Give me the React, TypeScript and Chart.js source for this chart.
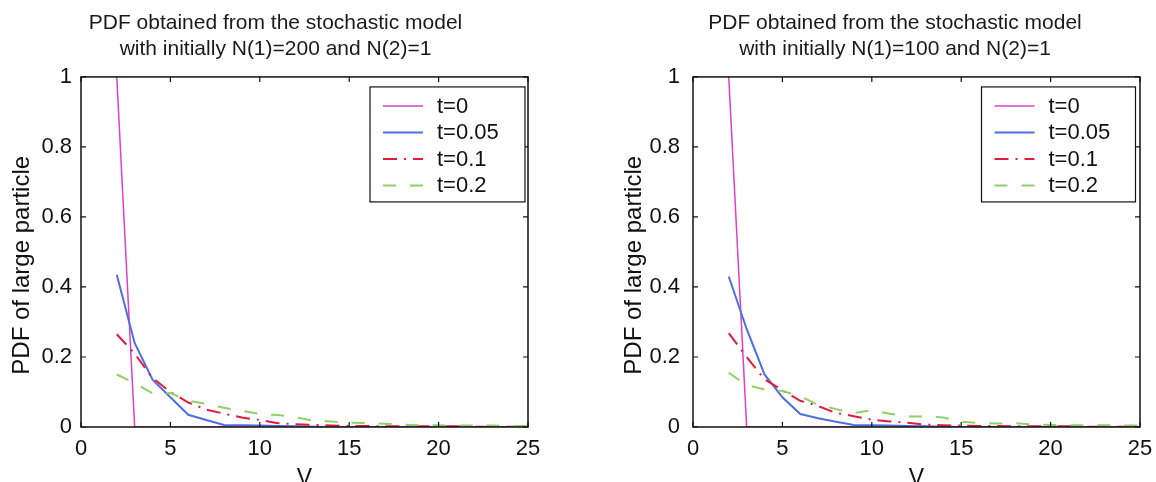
import React, { useEffect, useRef } from 'react';
import { Chart, registerables } from 'chart.js';

Chart.register(...registerables);

// ---------- data ----------
const V = [2, 3, 4, 5, 6, 7, 8, 9, 10, 11, 12, 13, 14, 15, 16, 17, 18, 19, 20, 21, 22, 23, 24, 25];

const SERIES_LABELS = ['t=0', 't=0.05', 't=0.1', 't=0.2'];

const LEFT_T0 = [1, 0, 0, 0, 0, 0, 0, 0, 0, 0, 0, 0, 0, 0, 0, 0, 0, 0, 0, 0, 0, 0, 0, 0];
const LEFT_T005 = [0.435, 0.24, 0.135, 0.085, 0.035, 0.02, 0.006, 0.005, 0.004, 0.003, 0.002, 0.001, 0, 0, 0, 0, 0, 0, 0, 0, 0, 0, 0, 0];
const LEFT_T01 = [0.265, 0.21, 0.14, 0.1, 0.07, 0.05, 0.038, 0.027, 0.02, 0.011, 0.008, 0.006, 0.004, 0.003, 0.003, 0.002, 0.002, 0.002, 0.002, 0.002, 0.001, 0.001, 0.001, 0.001];
const LEFT_T02 = [0.15, 0.125, 0.096, 0.097, 0.075, 0.066, 0.055, 0.046, 0.037, 0.034, 0.028, 0.018, 0.016, 0.012, 0.011, 0.009, 0.007, 0.005, 0.005, 0.004, 0.004, 0.004, 0.003, 0.003];

const RIGHT_T0 = [1, 0, 0, 0, 0, 0, 0, 0, 0, 0, 0, 0, 0, 0, 0, 0, 0, 0, 0, 0, 0, 0, 0, 0];
const RIGHT_T005 = [0.43, 0.28, 0.15, 0.085, 0.037, 0.025, 0.015, 0.006, 0.005, 0.004, 0.003, 0.002, 0.001, 0, 0, 0, 0, 0, 0, 0, 0, 0, 0, 0];
const RIGHT_T01 = [0.268, 0.2, 0.136, 0.105, 0.075, 0.06, 0.04, 0.031, 0.021, 0.016, 0.012, 0.007, 0.005, 0.004, 0.003, 0.003, 0.002, 0.002, 0.002, 0.002, 0.001, 0.001, 0.001, 0.001];
const RIGHT_T02 = [0.155, 0.12, 0.107, 0.103, 0.088, 0.063, 0.051, 0.04, 0.048, 0.038, 0.03, 0.03, 0.027, 0.015, 0.011, 0.01, 0.011, 0.007, 0.006, 0.005, 0.005, 0.005, 0.004, 0.004];

const X_TICKS = [0, 5, 10, 15, 20, 25];
const Y_TICKS = [0, 0.2, 0.4, 0.6, 0.8, 1];

const LEFT_TITLE = ['PDF obtained from the stochastic model', 'with initially N(1)=200 and N(2)=1'];
const RIGHT_TITLE = ['PDF obtained from the stochastic model', 'with initially N(1)=100 and N(2)=1'];
const X_TITLE = 'V';
const Y_TITLE = 'PDF of large particle';

// ---------- styles ----------
const FONT = "'Liberation Sans', Arial, Helvetica, sans-serif";
const STYLES = [
  { color: '#e03fc6', width: 1.5, dash: [] as number[] },
  { color: '#4f6fe0', width: 2, dash: [] as number[] },
  { color: '#e01c3c', width: 2, dash: [14, 7, 2, 7] },
  { color: '#8fd067', width: 2, dash: [13, 14] },
];

const framePlugin = {
  id: 'frameLegend',
  afterDatasetsDraw(chart: any, _args: any, opts: any) {
    const { ctx, chartArea: a, scales } = chart;
    ctx.save();
    // inward ticks
    ctx.strokeStyle = '#111';
    ctx.lineWidth = 1.2;
    ctx.setLineDash([]);
    ctx.beginPath();
    for (const t of X_TICKS) {
      const x = scales.x.getPixelForValue(t);
      ctx.moveTo(x, a.bottom);
      ctx.lineTo(x, a.bottom - 5);
      ctx.moveTo(x, a.top);
      ctx.lineTo(x, a.top + 5);
    }
    for (const t of Y_TICKS) {
      const y = scales.y.getPixelForValue(t);
      ctx.moveTo(a.left, y);
      ctx.lineTo(a.left + 5, y);
      ctx.moveTo(a.right, y);
      ctx.lineTo(a.right - 5, y);
    }
    ctx.stroke();
    // frame
    ctx.lineWidth = 1.5;
    ctx.strokeRect(a.left, a.top, a.right - a.left, a.bottom - a.top);

    // legend
    const w = opts.boxWidth;
    const h = 115;
    const bx = a.right - opts.rightInset - w;
    const by = a.top + 10;
    ctx.fillStyle = '#fff';
    ctx.fillRect(bx, by, w, h);
    ctx.lineWidth = 1.2;
    ctx.strokeStyle = '#111';
    ctx.strokeRect(bx, by, w, h);
    ctx.font = `22px ${FONT}`;
    ctx.textBaseline = 'middle';
    ctx.textAlign = 'left';
    SERIES_LABELS.forEach((lab, i) => {
      const y = by + 19 + i * 26.5;
      const s = STYLES[i];
      ctx.strokeStyle = s.color;
      ctx.lineWidth = s.width;
      ctx.setLineDash(s.dash);
      ctx.beginPath();
      ctx.moveTo(bx + 13, y);
      ctx.lineTo(bx + 53, y);
      ctx.stroke();
      ctx.setLineDash([]);
      ctx.fillStyle = '#111';
      ctx.fillText(lab, bx + 67, y + 1);
    });
    ctx.restore();
  },
};

type PanelProps = {
  left: number;
  width: number;
  rightAxisWidth: number;
  tickPad: number;
  title: string[];
  series: number[][];
  boxWidth: number;
  rightInset: number;
};

function Panel(props: PanelProps) {
  const ref = useRef<HTMLCanvasElement | null>(null);
  useEffect(() => {
    if (!ref.current) return;
    const datasets = props.series.map((arr, i) => ({
      label: SERIES_LABELS[i],
      data: V.map((v, j) => ({ x: v, y: arr[j] })),
      borderColor: STYLES[i].color,
      borderWidth: STYLES[i].width,
      borderDash: STYLES[i].dash,
      pointRadius: 0,
      fill: false,
      tension: 0,
      order: 4 - i,
    }));
    const tickFont = { family: FONT, size: 22 };
    const chart = new Chart(ref.current, {
      type: 'line',
      data: { datasets },
      plugins: [framePlugin],
      options: {
        responsive: false,
        animation: false,
        events: [],
        layout: { padding: 0 },
        plugins: {
          legend: { display: false },
          tooltip: { enabled: false },
          title: {
            display: true,
            text: props.title,
            color: '#1a1a1a',
            font: { family: FONT, size: 21, weight: 'normal', lineHeight: 1.26 },
            padding: { top: 9.5, bottom: 14.5 },
          },
          frameLegend: { boxWidth: props.boxWidth, rightInset: props.rightInset },
        } as any,
        scales: {
          x: {
            type: 'linear',
            min: 0,
            max: 25,
            afterBuildTicks: (s: any) => {
              s.ticks = X_TICKS.map((v) => ({ value: v }));
            },
            afterFit: (s: any) => {
              s.height = 73;
            },
            ticks: { font: tickFont, color: '#111', padding: 9, maxRotation: 0 },
            grid: { display: false, drawTicks: false },
            border: { display: false },
            title: {
              display: true,
              text: X_TITLE,
              color: '#111',
              font: { family: FONT, size: 23 },
              padding: { top: 0, bottom: 8 },
            },
          },
          y: {
            type: 'linear',
            min: 0,
            max: 1,
            afterBuildTicks: (s: any) => {
              s.ticks = Y_TICKS.map((v) => ({ value: v }));
            },
            afterFit: (s: any) => {
              s.width = 81;
            },
            ticks: {
              font: tickFont,
              color: '#111',
              padding: props.tickPad,
              callback: (v: any) => (v === 0 || v === 1 ? String(v) : Number(v).toFixed(1)),
            },
            grid: { display: false, drawTicks: false },
            border: { display: false },
            title: {
              display: true,
              text: Y_TITLE + '    ',
              color: '#111',
              font: { family: FONT, size: 24 },
              padding: { top: 7.5, bottom: 0 },
            },
          },
          y2: {
            type: 'linear',
            position: 'right',
            min: 0,
            max: 1,
            ticks: { display: false },
            grid: { display: false, drawTicks: false },
            border: { display: false },
            afterFit: (s: any) => {
              s.width = props.rightAxisWidth;
            },
          },
        },
      } as any,
    });
    return () => chart.destroy();
  }, []);
  return (
    <canvas
      ref={ref}
      width={props.width}
      height={500}
      style={{ position: 'absolute', left: props.left, top: 0, width: props.width, height: 500, display: 'block' }}
    />
  );
}

export default function App() {
  return (
    <div
      style={{
        position: 'fixed',
        left: 0,
        top: 0,
        width: 1156,
        height: 482,
        overflow: 'hidden',
        background: '#ffffff',
      }}
    >
      <Panel
        left={0}
        width={551}
        rightAxisWidth={23}
        tickPad={9}
        title={LEFT_TITLE}
        series={[LEFT_T0, LEFT_T005, LEFT_T01, LEFT_T02]}
        boxWidth={155}
        rightInset={3}
      />
      <Panel
        left={612}
        width={566}
        rightAxisWidth={38}
        tickPad={13}
        title={RIGHT_TITLE}
        series={[RIGHT_T0, RIGHT_T005, RIGHT_T01, RIGHT_T02]}
        boxWidth={154}
        rightInset={4.5}
      />
    </div>
  );
}
